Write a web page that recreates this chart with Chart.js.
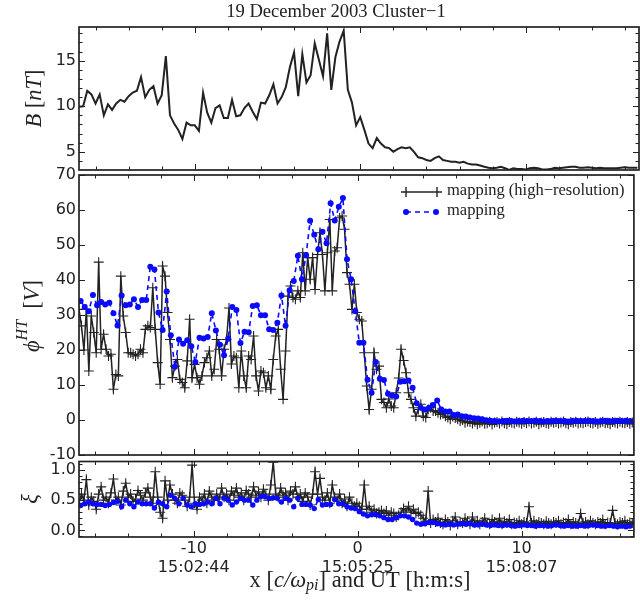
<!DOCTYPE html>
<html>
<head>
<meta charset="utf-8">
<script src="https://cdn.jsdelivr.net/npm/chart.js@4.4.1/dist/chart.umd.min.js"></script>
<style>
body { margin: 0; background: #fff; }
#wrap { position: relative; width: 640px; height: 607px; }
canvas { position: absolute; left: 0; top: 0; }
</style>
</head>
<body>
<div id="wrap">
<canvas id="panelB" width="640" height="607"></canvas>
<canvas id="panelPhi" width="640" height="607"></canvas>
<canvas id="panelXi" width="640" height="607"></canvas>
</div>
<script>
// sample positions (x in c/omega_pi), constant cadence
const bStart = -17, bStep = 0.25;
const mapStart = -16.9, mapStep = 0.25;
const highStart = -17, highStep = 0.15;

// B [nT]
const bField = [
  9.95, 10.0, 11.7, 11.3, 10.3, 11.3, 9.0, 10.2, 9.6, 10.3,
  10.7, 10.5, 11.1, 11.5, 11.7, 13.2, 11.0, 11.8, 12.2, 10.3,
  11.2, 15.5, 9.0, 8.1, 7.4, 6.4, 8.2, 7.9, 7.9, 7.3,
  11.5, 9.3, 8.2, 9.8, 10.1, 8.7, 8.7, 10.7, 8.9, 9.0,
  9.8, 10.3, 9.4, 8.6, 10.4, 10.3, 11.2, 12.4, 10.3, 11.0,
  12.1, 14.3, 15.9, 11.1, 15.7, 12.6, 13.4, 16.9, 15.1, 13.3,
  18.0, 11.8, 15.4, 17.1, 18.3, 11.8, 10.4, 7.9, 8.8, 7.4,
  5.9, 5.4, 6.5, 5.9, 5.5, 5.4, 5.0, 5.3, 5.5, 5.4,
  5.5, 5.0, 4.4, 4.3, 4.1, 4.0, 4.3, 4.5, 4.1, 4.0,
  3.9, 3.9, 3.8, 3.9, 3.7, 3.6, 3.6, 3.5, 3.35, 3.25,
  3.2, 3.25, 3.35, 3.2, 3.0, 3.2, 3.1, 3.1, 3.05, 3.2,
  3.25, 3.2, 3.05, 3.05, 3.1, 3.25, 3.2, 3.25, 3.3, 3.35,
  3.35, 3.25, 3.25, 3.3, 3.25, 3.2, 3.25, 3.2, 3.2, 3.2,
  3.2, 3.25, 3.3, 3.25, 3.25, 3.25
];

// phi^HT [V], high-resolution mapping
const phiHigh = [
  31.6, 26.9, 20, 31.6, 14, 29.7, 25, 19.2, 45.1, 20.2,
  24.5, 20.2, 18.3, 18.8, 8.8, 13, 12.6, 41.1, 29.7, 25,
  19.2, 19.2, 18.8, 18.3, 18.8, 20.2, 19.2, 25.9, 26.9, 26.4,
  37.8, 25.9, 16.4, 10.2, 44, 41.1, 30.7, 23, 12.1, 15.4,
  17.3, 11.6, 10.7, 9.2, 16.9, 28.8, 12.1, 15.9, 12.1, 10.2,
  12.6, 16.4, 17.8, 19.7, 12.6, 14.5, 23, 20.2, 12.6, 20.2,
  23, 32, 16,
  18.3, 17.8, 9.2, 19.7, 12.6, 9.2, 18.3, 17.3, 24, 12.6,
  8.3, 14, 13.5, 9.2, 12.6, 8.8, 17.3, 24, 25.9, 14.5,
  5.9, 19.7, 35.4, 38.3, 35, 34.5, 36.9, 35, 47.8, 36.9,
  46.4, 40.2, 46.4, 37.3, 47.3, 53.5, 47.3, 36.9, 47.8, 57.3,
  36.9, 48.3, 49.2, 57.8, 58.3, 54.5, 42.1, 38.8, 31.6, 38.8,
  30.7, 28.8, 28.3, 19.2, 9.7, 3.0, 8.8, 19.2, 14.5, 15.4,
  5.9, 5.0, 3.5, 6, 4.0, 3.5, 7.8, 12, 20.2, 17,
  13.5, 7.8, 5.9, 3.5, 1.1, 3.0, 4.5, 1.1, 0.7, 3.0,
  3.5, 2.6, 2.6, 2.1, 1.6, 1.8, 1.1, 0.7, 0.2, 1.0,
  0.6, 0.2, -0.3, 0, -0.8, -0.4,
  -0.6, -1.0, -0.5, -1.2, -0.8, -0.4, -1.1, -0.9, -0.5, -1.3,
  -0.7, -0.6, -1.0, -0.4, -0.9, -1.2, -0.6, -0.8, -1.0, -0.5,
  -0.7, -1.1, -0.6, -0.9, -0.4, -1.0, -0.8, -0.5, -1.2, -0.7,
  -0.6, -0.9, -1.1, -0.5, -0.8, -0.6, -1.0, -0.7, -0.4, -0.9,
  -1.2, -0.6, -0.8, -0.5, -1.0, -0.7, -0.9, -0.6, -0.4, -0.8,
  -1.0, -0.6, -1.1, -0.7, -0.5, -0.9, -0.8, -1.2, -0.6, -0.7,
  -1.0, -0.5, -0.8, -0.9, -0.6, -1.1, -0.7, -0.8
];

// phi^HT [V], mapping
const phiMap = [
  34.0, 32.3, 31.1, 35.7, 32.8, 33.7, 33.0, 33.5, 30.5, 27.0,
  35.6, 32.8, 33.0, 34.5, 32.3, 34.3, 34.3, 43.8, 43.0, 30.7,
  25.7, 36.7, 24.2, 15.2, 23.0, 21.8, 22.8, 21.1, 16.6, 23.5,
  23.3, 23.7, 30.5, 25.6, 21.5, 18.5, 23.2, 32.3, 31.4, 22.0,
  25.2, 25.1, 32.6, 32.8, 29.9, 29.9, 25.9, 25.7, 27.8, 35.6,
  26.9, 37.1, 39.7, 46.9, 40.2, 47.1, 56.9, 52.9, 48.8, 53.8,
  50.5, 61.9, 57.0, 60.9, 63.4, 45.9, 40.2, 31.1, 22.1, 22.1,
  11.5, 7.8, 16.6, 11.8, 11.4, 7.5, 7.0, 6.7, 10.9, 11.1,
  11.3, 9.2, 4.8, 3.5, 3.0, 3.5, 4.3, 5.6, 3.0, 2.4,
  2.4, 1.4, 1.6, 1.1, 1.0, 0.7, 0.5, 0.4, 0.2, -0.1,
  -0.2, -0.3, -0.4, -0.3, -0.2, -0.3, -0.4, -0.3, -0.2, -0.3,
  -0.3, -0.2, -0.3, -0.4, -0.3, -0.3, -0.2, -0.3, -0.3, -0.4,
  -0.3, -0.2, -0.3, -0.3, -0.2, -0.3, -0.4, -0.3, -0.2, -0.3,
  -0.3, -0.2, -0.3, -0.2, -0.3, -0.4
];

// xi, high-resolution mapping
const xiHigh = [
  0.45, 0.6, 0.5, 0.84, 0.42, 0.55, 0.48, 0.35, 0.6, 0.72,
  0.5, 0.55, 0.45, 0.62, 0.85, 0.5, 0.55, 0.42, 0.65, 0.78,
  0.55, 0.6, 0.48, 0.52, 0.66, 0.58, 0.5, 0.62, 0.7, 0.55,
  0.45, 0.97, 0.55, 0.3, 0.2, 0.82, 0.5, 0.75, 0.6, 0.5,
  0.45, 0.62, 0.58, 0.5, 0.4, 0.55, 1.08, 0.45, 0.35, 0.55,
  0.5, 0.6, 0.45, 0.65, 0.55, 0.5, 0.6, 0.52, 0.7, 0.55,
  0.6, 0.5, 0.65, 0.58, 0.7, 0.55, 0.62, 0.5, 0.66, 0.6,
  0.55, 0.72, 0.58, 0.64, 0.55, 0.68, 0.6, 0.5, 0.75, 1.13,
  0.6, 0.55, 0.7, 0.58, 0.62, 0.5, 0.65, 0.6, 0.72, 0.55,
  0.6, 0.48, 0.62, 0.55, 0.42, 0.6, 0.97, 0.6, 0.86, 0.55,
  0.5, 0.62, 0.45, 0.75, 0.55, 0.5, 0.6, 0.45, 0.52, 0.4,
  0.55, 0.45, 0.4, 0.45, 0.4, 0.35, 0.75, 0.35, 0.4, 0.3,
  0.35, 0.28, 0.3, 0.33, 0.28, 0.32, 0.25, 0.3, 0.28, 0.22,
  0.25, 0.3, 0.36, 0.32, 0.4, 0.3, 0.35, 0.28, 0.3, 0.25,
  0.2, 0.15, 0.65, 0.12, 0.18, 0.14,
  0.2, 0.12, 0.1, 0.18, 0.14, 0.08, 0.16, 0.22, 0.1, 0.14,
  0.12, 0.2, 0.15, 0.1, 0.22, 0.12, 0.16, 0.1, 0.14, 0.2,
  0.12, 0.1, 0.18, 0.14, 0.12, 0.2, 0.1, 0.15, 0.12, 0.18,
  0.1, 0.13, 0.12, 0.16, 0.1, 0.14, 0.12, 0.39, 0.12, 0.16,
  0.1, 0.14, 0.12, 0.1, 0.15, 0.12, 0.1, 0.14, 0.12, 0.16,
  0.1, 0.13, 0.12, 0.18, 0.1, 0.14, 0.12, 0.1, 0.28, 0.12,
  0.14, 0.1, 0.16, 0.12, 0.1, 0.14, 0.12, 0.18, 0.1, 0.13,
  0.12, 0.33, 0.12, 0.1, 0.14, 0.12, 0.16, 0.1, 0.13, 0.12,
  0.14
];

// xi, mapping
const xiMap = [
  0.41, 0.44, 0.47, 0.44, 0.43, 0.43, 0.41, 0.43, 0.46, 0.48,
  0.39, 0.5, 0.44, 0.39, 0.47, 0.44, 0.44, 0.44, 0.37, 0.47,
  0.44, 0.39, 0.58, 0.53, 0.44, 0.53, 0.42, 0.39, 0.44, 0.43,
  0.44, 0.47, 0.44, 0.53, 0.44, 0.54, 0.5, 0.42, 0.47, 0.53,
  0.5, 0.5, 0.42, 0.5, 0.56, 0.56, 0.53, 0.54, 0.53, 0.47,
  0.53, 0.5, 0.39, 0.53, 0.43, 0.43, 0.42, 0.36, 0.51, 0.42,
  0.43, 0.43, 0.51, 0.44, 0.44, 0.39, 0.37, 0.36, 0.31,
  0.27, 0.24, 0.26, 0.26, 0.24, 0.21, 0.18, 0.18, 0.21, 0.24,
  0.24, 0.22, 0.18, 0.12, 0.10, 0.11, 0.13, 0.13, 0.11, 0.10,
  0.09, 0.10, 0.09, 0.10, 0.11, 0.10, 0.11, 0.09, 0.09, 0.10,
  0.09, 0.08, 0.09, 0.08, 0.08, 0.09, 0.08, 0.07, 0.08, 0.09,
  0.08, 0.08, 0.07, 0.08, 0.08, 0.07, 0.08, 0.09, 0.08, 0.07,
  0.08, 0.07, 0.07, 0.08, 0.07, 0.08, 0.09, 0.08, 0.07, 0.07,
  0.08, 0.07, 0.06, 0.07, 0.06, 0.07
];

const xTicks = [-10, 0, 10];
const utLabels = ['15:02:44', '15:05:25', '15:08:07'];
const xMinor = [-16, -14, -12, -8, -6, -4, -2, 2, 4, 6, 8, 12, 14, 16];
const bTicks = [5, 10, 15];
const bMinor = [4, 6, 7, 8, 9, 11, 12, 13, 14, 16, 17, 18];
const phiTicks = [-10, 0, 10, 20, 30, 40, 50, 60, 70];
const xiTicks = [0, 0.5, 1];
const xiMinor = [-0.1, 0.1, 0.2, 0.3, 0.4, 0.6, 0.7, 0.8, 0.9, 1.1];

const INK = '#222';
const BLUE = '#0a0aff';
const serif = 'Liberation Serif';
const R = '22.5px ' + serif, I = 'italic 22.5px ' + serif, ISMALL = 'italic 16px ' + serif;

function series(vals, start, step) {
  return vals.map((v, i) => ({ x: start + i * step, y: v }));
}

function drawRuns(ctx, runs, cx, cy, rot) {
  ctx.save();
  ctx.translate(cx, cy);
  if (rot) ctx.rotate(-Math.PI / 2);
  ctx.fillStyle = INK;
  ctx.textBaseline = 'middle';
  let w = 0;
  const widths = runs.map(r => { ctx.font = r.f; const m = ctx.measureText(r.t).width; w += m; return m; });
  let px = -w / 2;
  runs.forEach((r, i) => { ctx.font = r.f; ctx.fillText(r.t, px, r.dy || 0); px += widths[i]; });
  ctx.restore();
}

function framePlugin(yMajor, yMinor) {
  return {
    id: 'frame',
    afterDraw(chart) {
      const { ctx, chartArea: a } = chart;
      const sx = chart.scales.x, sy = chart.scales.y;
      ctx.save();
      ctx.strokeStyle = INK;
      ctx.lineWidth = 1;
      ctx.beginPath();
      const tx = (vals, len) => vals.forEach(v => {
        const p = Math.round(sx.getPixelForValue(v)) + 0.5;
        ctx.moveTo(p, a.top); ctx.lineTo(p, a.top + len);
        ctx.moveTo(p, a.bottom); ctx.lineTo(p, a.bottom - len);
      });
      const ty = (vals, len) => vals.forEach(v => {
        const p = Math.round(sy.getPixelForValue(v)) + 0.5;
        ctx.moveTo(a.left, p); ctx.lineTo(a.left + len, p);
        ctx.moveTo(a.right, p); ctx.lineTo(a.right - len, p);
      });
      tx(xTicks, 6); tx(xMinor, 3.5);
      ty(yMajor, 6); ty(yMinor, 3.5);
      ctx.stroke();
      ctx.lineWidth = 1.7;
      ctx.strokeRect(a.left, a.top, a.right - a.left, a.bottom - a.top);
      ctx.restore();
    }
  };
}

function textPlugin(items) {
  return {
    id: 'texts',
    afterDraw(chart) {
      items.forEach(it => drawRuns(chart.ctx, it.runs, it.x, it.y, it.rot));
    }
  };
}

const legendPlugin = {
  id: 'legendBox',
  afterDraw(chart) {
    const ctx = chart.ctx;
    ctx.save();
    ctx.strokeStyle = INK;
    ctx.lineWidth = 1.4;
    ctx.beginPath();
    ctx.moveTo(406, 192); ctx.lineTo(437, 192);
    [406, 437].forEach(x => {
      ctx.moveTo(x - 5, 192); ctx.lineTo(x + 5, 192);
      ctx.moveTo(x, 187); ctx.lineTo(x, 197);
    });
    ctx.stroke();
    ctx.strokeStyle = BLUE;
    ctx.lineWidth = 1.6;
    ctx.setLineDash([5, 4]);
    ctx.beginPath();
    ctx.moveTo(406, 212); ctx.lineTo(436, 212);
    ctx.stroke();
    ctx.setLineDash([]);
    ctx.fillStyle = BLUE;
    [406, 436].forEach(x => { ctx.beginPath(); ctx.arc(x, 212, 3, 0, Math.PI * 2); ctx.fill(); });
    ctx.fillStyle = INK;
    ctx.font = '16.5px ' + serif;
    ctx.textBaseline = 'middle';
    ctx.fillText('mapping (high\u2212resolution)', 447, 191);
    ctx.fillText('mapping', 447, 211);
    ctx.restore();
  }
};

const tickFont = { family: 'DejaVu Sans', size: 16 };

function yScale(min, max, ticks, fmt) {
  return {
    type: 'linear', min: min, max: max,
    afterFit: s => { s.width = 79; },
    afterBuildTicks: s => { s.ticks = ticks.map(v => ({ value: v })); },
    grid: { display: false, drawTicks: false },
    border: { display: false },
    ticks: { font: tickFont, color: INK, padding: 3, autoSkip: false, callback: fmt }
  };
}

const hiddenX = { type: 'linear', min: -17, max: 16.85, display: false };

function baseOptions(padding, x, y) {
  return {
    responsive: false,
    animation: false,
    devicePixelRatio: 1,
    layout: { padding: padding },
    plugins: { legend: { display: false }, tooltip: { enabled: false } },
    scales: { x: x, y: y }
  };
}

function highSet(data) {
  return {
    data: data, borderColor: INK, borderWidth: 1.5, tension: 0,
    pointStyle: 'cross', pointRadius: 5, pointBorderWidth: 1.1,
    pointBorderColor: INK, order: 2
  };
}

function mapSet(data, r) {
  return {
    data: data, borderColor: BLUE, borderWidth: 1.6, borderDash: [5, 4], tension: 0,
    pointStyle: 'circle', pointRadius: r, pointBorderWidth: 0,
    pointBackgroundColor: BLUE, order: 1
  };
}

// top panel: B
new Chart(document.getElementById('panelB'), {
  type: 'line',
  data: { datasets: [{ data: series(bField, bStart, bStep), borderColor: INK, borderWidth: 2, pointRadius: 0, tension: 0 }] },
  options: baseOptions({ top: 27, bottom: 437, left: 0, right: 1 }, hiddenX,
    yScale(3, 18.7, bTicks, v => String(v))),
  plugins: [framePlugin(bTicks, bMinor), textPlugin([
    { x: 336, y: 12, rot: false, runs: [{ t: '19 December 2003 Cluster\u22121', f: '18.6px ' + serif }] },
    { x: 35, y: 98.5, rot: true, runs: [{ t: 'B', f: I }, { t: ' [', f: R }, { t: 'nT', f: I }, { t: ']', f: R }] }
  ])]
});

// middle panel: phi
new Chart(document.getElementById('panelPhi'), {
  type: 'line',
  data: { datasets: [mapSet(series(phiMap, mapStart, mapStep), 3), highSet(series(phiHigh, highStart, highStep))] },
  options: baseOptions({ top: 175, bottom: 152, left: 0, right: 1 }, hiddenX,
    yScale(-10, 70, phiTicks, v => String(v))),
  plugins: [framePlugin(phiTicks, []), legendPlugin, textPlugin([
    { x: 33, y: 316, rot: true, runs: [{ t: '\u03D5', f: I }, { t: 'HT', f: ISMALL, dy: -10 }, { t: '  [', f: R }, { t: 'V', f: I }, { t: ']', f: R }] }
  ])]
});

// bottom panel: xi
const xBottom = {
  type: 'linear', min: -17, max: 16.85,
  afterFit: s => { s.height = 70; },
  afterBuildTicks: s => { s.ticks = xTicks.map(v => ({ value: v })); },
  grid: { display: false, drawTicks: false },
  border: { display: false },
  ticks: {
    font: tickFont, color: INK, padding: 2, autoSkip: false, maxRotation: 0,
    callback: (v, i) => [String(xTicks[i]), utLabels[i]]
  }
};
new Chart(document.getElementById('panelXi'), {
  type: 'line',
  data: { datasets: [mapSet(series(xiMap, mapStart, mapStep), 2.7), highSet(series(xiHigh, highStart, highStep))] },
  options: baseOptions({ top: 461.5, bottom: 0, left: 0, right: 1 }, xBottom,
    yScale(-0.11, 1.14, xiTicks, v => v.toFixed(1))),
  plugins: [framePlugin(xiTicks, xiMinor), textPlugin([
    { x: 31, y: 499, rot: true, runs: [{ t: '\u03BE', f: I }] },
    { x: 360, y: 581, rot: false, runs: [{ t: 'x [', f: R }, { t: 'c/\u03C9', f: I }, { t: 'pi', f: ISMALL, dy: 5 }, { t: '] and UT [h:m:s]', f: R }] }
  ])]
});
</script>
</body>
</html>
